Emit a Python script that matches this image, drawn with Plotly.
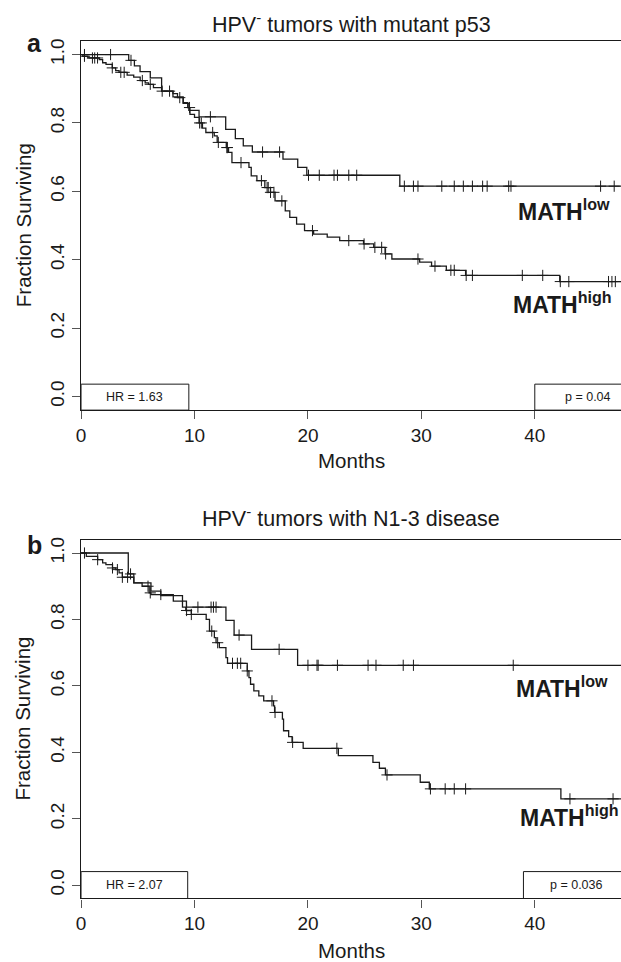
import numpy as np
import plotly.graph_objects as go

# ---------------- Panel a: HPV- tumors with mutant p53 ----------------
a_low_t = [0, 4.2, 4.7, 5.2, 6.1, 7.1, 8.1, 9.0, 9.5, 10.4, 12.75, 13.6, 14.3, 15.1,
           17.8, 19.1, 19.9, 28.1]
a_low_s = [1.0, 0.983, 0.967, 0.950, 0.932, 0.893, 0.876, 0.857, 0.837, 0.818, 0.781,
           0.754, 0.733, 0.715, 0.694, 0.670, 0.647, 0.615]
a_low_cens = [0.3, 2.6, 4.4, 11.4, 16.0, 17.5, 20.05, 21.0, 22.3, 22.6, 23.6, 24.3,
              28.5, 29.3, 29.7, 31.8, 32.9, 33.7, 34.5, 35.4, 35.8, 37.7, 37.9, 45.8, 47.0]

a_high_t = [0, 0.15, 0.6, 1.6, 1.9, 2.2, 2.75, 3.05, 3.35, 4.06, 4.64, 5.21, 5.65, 5.94,
            6.38, 7.1, 8.1, 8.5, 9.0, 9.4, 9.6, 10.0, 10.4, 10.7, 11.0, 11.74, 12.0, 12.8,
            13.0, 13.3, 14.8, 15.0, 15.5, 16.2, 16.7, 17.1, 18.0, 18.4, 19.0, 19.7, 20.5,
            21.7, 22.8, 24.9, 25.8, 26.8, 27.4, 29.85, 30.9, 32.2, 33.9, 42.2]
a_high_s = [1.0, 0.995, 0.99, 0.985, 0.976, 0.971, 0.961, 0.953, 0.948, 0.940, 0.934,
            0.924, 0.917, 0.913, 0.903, 0.893, 0.886, 0.874, 0.859, 0.845, 0.825, 0.816,
            0.800, 0.785, 0.772, 0.762, 0.743, 0.728, 0.714, 0.684, 0.670, 0.645, 0.631,
            0.611, 0.597, 0.572, 0.543, 0.524, 0.504, 0.485, 0.475, 0.466, 0.456, 0.446,
            0.436, 0.417, 0.402, 0.393, 0.381, 0.369, 0.354, 0.336]
a_high_cens = [0.3, 1.0, 1.2, 1.45, 2.75, 3.5, 3.8, 5.4, 6.1, 7.15, 7.8, 8.7, 9.56, 10.45,
               10.6, 11.6, 12.1, 12.85, 12.9, 14.1, 15.9, 16.4, 16.5, 16.7, 17.0, 17.7,
               20.4, 23.6, 24.95, 25.9, 26.5, 26.85, 29.7, 31.2, 32.6, 32.9, 33.95, 34.5,
               38.9, 40.7, 42.25, 43.0, 46.5, 46.8, 47.1]
a_end = 47.6
a_title = "HPV<sup>-</sup> tumors with mutant p53"
a_hr = "HR = 1.63"
a_p = "p = 0.04"

# ---------------- Panel b: HPV- tumors with N1-3 disease ----------------
b_low_t = [0, 4.16, 4.65, 6.16, 7.03, 8.94, 9.29, 12.77, 13.49, 15.03, 19.09]
b_low_s = [1.0, 0.937, 0.91, 0.885, 0.872, 0.855, 0.837, 0.797, 0.753, 0.710, 0.662]
b_low_cens = [4.36, 10.3, 11.46, 11.67, 11.9, 13.93, 17.46, 20.0, 20.8, 20.9, 22.6,
              25.3, 26.0, 28.4, 29.3, 38.1]

b_high_t = [0, 0.46, 1.46, 1.9, 2.19, 2.77, 3.06, 3.35, 3.64, 4.65, 5.38, 6.0, 6.16,
            8.13, 8.94, 9.23, 9.72, 11.03, 11.32, 11.75, 11.9, 12.19, 12.77, 12.91,
            14.65, 14.8, 14.94, 15.23, 15.67, 16.1, 16.97, 17.06, 17.75, 17.85, 18.3,
            18.6, 19.58, 22.68, 25.73, 26.3, 26.83, 29.9, 30.7, 42.3]
b_high_s = [1.0, 0.99, 0.98, 0.97, 0.965, 0.955, 0.95, 0.94, 0.927, 0.91, 0.90, 0.88,
            0.875, 0.855, 0.837, 0.827, 0.815, 0.80, 0.765, 0.745, 0.73, 0.715, 0.685,
            0.668, 0.645, 0.625, 0.605, 0.585, 0.57, 0.555, 0.54, 0.52, 0.50, 0.465,
            0.447, 0.43, 0.412, 0.39, 0.37, 0.352, 0.332, 0.31, 0.29, 0.26]
b_high_cens = [0.3, 1.46, 2.77, 3.2, 3.64, 4.1, 5.9, 6.1, 7.03, 9.3, 9.72, 11.52, 12.04,
               13.35, 13.78, 14.07, 14.65, 16.83, 17.1, 18.65, 22.55, 26.97, 30.8, 32.1,
               32.9, 33.9, 43.1, 46.9]
b_end = 47.6
b_title = "HPV<sup>-</sup> tumors with N1-3 disease"
b_hr = "HR = 2.07"
b_p = "p = 0.036"

x_ticks = [0, 10, 20, 30, 40]
y_ticks = [0.0, 0.2, 0.4, 0.6, 0.8, 1.0]
y_ticklabels = ["0.0", "0.2", "0.4", "0.6", "0.8", "1.0"]
group_low = "MATH<sup>low</sup>"
group_high = "MATH<sup>high</sup>"

W, H = 621, 962
FONT = "Liberation Sans, Arial, Helvetica, sans-serif"
INK = "#1a1a1a"


def px(x):
    return x / W


def py(y):
    return 1 - y / H


def km_line(t, s, end, xa, ya):
    return go.Scatter(x=list(t) + [end], y=list(s) + [s[-1]], mode="lines",
                      line=dict(shape="hv", color=INK, width=1.3),
                      xaxis=xa, yaxis=ya, showlegend=False, hoverinfo="skip")


def km_cens(t, s, cens, xa, ya):
    idx = np.searchsorted(np.array(t), np.array(cens), side="right") - 1
    yv = np.array(s)[idx]
    return go.Scatter(x=cens, y=yv, mode="markers",
                      marker=dict(symbol="cross-thin", size=8, color=INK,
                                  line=dict(color=INK, width=1)),
                      xaxis=xa, yaxis=ya, showlegend=False, hoverinfo="skip")


fig = go.Figure()
for xa, ya, t, s, c, e in [
    ("x", "y", a_low_t, a_low_s, a_low_cens, a_end),
    ("x", "y", a_high_t, a_high_s, a_high_cens, a_end),
    ("x2", "y2", b_low_t, b_low_s, b_low_cens, b_end),
    ("x2", "y2", b_high_t, b_high_s, b_high_cens, b_end),
]:
    fig.add_trace(km_line(t, s, e, xa, ya))
    fig.add_trace(km_cens(t, s, c, xa, ya))

xdom = [76.7 / W, 1.0]
a_dom = [py(408.4), py(38.0)]
b_dom = [py(898.3), py(538.4)]

axis_common = dict(showgrid=False, zeroline=False, showline=True, linecolor=INK,
                   linewidth=1.2, ticks="outside", ticklen=8, tickwidth=1.1,
                   tickcolor="#555", tickfont=dict(family=FONT, size=19, color=INK))

fig.update_layout(
    xaxis=dict(domain=xdom, range=[0, 47.6], tickvals=x_ticks, anchor="y", mirror=True,
               **axis_common),
    yaxis=dict(domain=a_dom, range=[-0.04, 1.04], tickvals=y_ticks, ticktext=y_ticklabels,
               tickangle=-90, anchor="x", **axis_common),
    xaxis2=dict(domain=xdom, range=[0, 47.6], tickvals=x_ticks, anchor="y2", mirror=True,
                **axis_common),
    yaxis2=dict(domain=b_dom, range=[-0.04, 1.04], tickvals=y_ticks, ticktext=y_ticklabels,
                tickangle=-90, anchor="x2", **axis_common),
)

shapes = []
ann = []
for xr, yr, hr, p, top, hr_right, p_left in [
    ("x", "y", a_hr, a_p, 0.036, 9.5, 40.0),
    ("x2", "y2", b_hr, b_p, 0.041, 9.4, 39.0),
]:
    shapes.append(dict(type="rect", xref=xr, yref=yr, x0=0, x1=hr_right, y0=-0.04, y1=top,
                       line=dict(color=INK, width=1), fillcolor="white", layer="below"))
    shapes.append(dict(type="rect", xref=xr, yref=yr, x0=p_left, x1=48.5, y0=-0.04, y1=top,
                       line=dict(color=INK, width=1), fillcolor="white", layer="below"))
    ann.append(dict(xref=xr, yref=yr, x=hr_right / 2, y=(top - 0.04) / 2, text=hr,
                    showarrow=False, font=dict(family=FONT, size=12.5, color=INK)))
    ann.append(dict(xref=xr, yref=yr, x=p_left + 4.7, y=(top - 0.04) / 2, text=p,
                    showarrow=False, font=dict(family=FONT, size=12.5, color=INK)))

# group labels
for xr, yr, x, y, txt in [
    ("x", "y", 38.3, 0.546, group_low),
    ("x", "y", 37.9, 0.272, group_high),
    ("x2", "y2", 38.2, 0.596, group_low),
    ("x2", "y2", 38.5, 0.208, group_high),
]:
    ann.append(dict(xref=xr, yref=yr, x=x, y=y, xanchor="left", yanchor="middle",
                    text="<b>" + txt + "</b>", showarrow=False,
                    font=dict(family=FONT, size=23, color=INK)))

# titles, panel letters, axis titles
for ty, title, letter_y, months_y, frac_y, letter in [
    (20.5, a_title, 40.5, 459, 223, "a"),
    (515.5, b_title, 543.5, 950, 718, "b"),
]:
    ann.append(dict(xref="paper", yref="paper", x=px(349), y=py(ty), text=title,
                    showarrow=False, xanchor="center", yanchor="middle",
                    font=dict(family=FONT, size=21.5, color=INK)))
    ann.append(dict(xref="paper", yref="paper", x=px(30), y=py(letter_y),
                    text="<b>" + letter + "</b>", showarrow=False, xanchor="center",
                    yanchor="middle", font=dict(family=FONT, size=25, color=INK)))
    ann.append(dict(xref="paper", yref="paper", x=px(349), y=py(months_y), text="Months",
                    showarrow=False, xanchor="center", yanchor="middle",
                    font=dict(family=FONT, size=20.5, color=INK)))
    ann.append(dict(xref="paper", yref="paper", x=px(18), y=py(frac_y),
                    text="Fraction Surviving", textangle=-90, showarrow=False,
                    xanchor="center", yanchor="middle",
                    font=dict(family=FONT, size=20.5, color=INK)))

fig.update_layout(
    width=W, height=H, autosize=False,
    margin=dict(l=0, r=0, t=0, b=0, pad=0),
    paper_bgcolor="white", plot_bgcolor="white",
    shapes=shapes, annotations=ann, showlegend=False,
    font=dict(family=FONT, color=INK),
)

fig.write_html("out.html", config={"displayModeBar": False},
               post_script="document.body.style.margin='0';")
